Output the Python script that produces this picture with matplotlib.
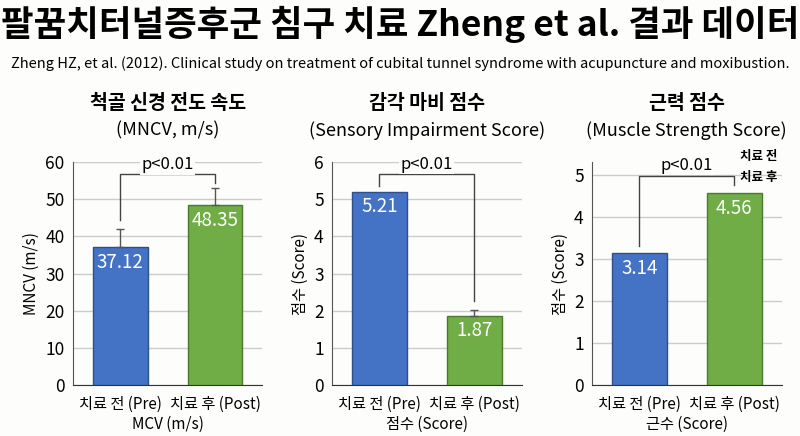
import matplotlib
matplotlib.use("Agg")
import matplotlib.pyplot as plt

plt.rcParams['font.family'] = ['Noto Sans CJK KR', 'DejaVu Sans']

# data
groups = ["치료 전 (Pre)", "치료 후 (Post)"]
mncv = [37.12, 48.35]
mncv_err = [4.8, 4.7]
sensory = [5.21, 1.87]
sensory_err = [0.0, 0.16]
muscle = [3.14, 4.56]
muscle_err = [0.0, 0.0]

panel_titles = ["척골 신경 전도 속도", "감각 마비 점수", "근력 점수"]
panel_subtitles = ["(MNCV, m/s)", "(Sensory Impairment Score)", "(Muscle Strength Score)"]
ylabels = ["MNCV (m/s)", "점수 (Score)", "점수 (Score)"]
xlabels = ["MCV (m/s)", "점수 (Score)", "근수 (Score)"]
ylims = [60, 6, 5.3]
yticks = [range(0, 61, 10), range(0, 7), range(0, 6)]
# bracket: (top, left leg end, right leg end, text y)
brackets = [(56.8, 44.4, 54.4, 59.3),
            (5.68, 5.36, 2.25, 5.95),
            (4.96, 3.30, 4.75, 5.22)]

colors = ["#4472C4", "#70AD47"]
edges = ["#2F4F8A", "#4A7A2C"]
bg = "#fdfdfb"

fig = plt.figure(figsize=(8, 4.36), dpi=100, facecolor=bg)

fig.text(0.5, 0.945, "팔꿈치터널증후군 침구 치료 Zheng et al. 결과 데이터",
         ha="center", va="center", fontsize=25.5, fontweight="bold")
fig.text(0.5, 0.855, "Zheng HZ, et al. (2012). Clinical study on treatment of cubital tunnel "
         "syndrome with acupuncture and moxibustion.",
         ha="center", va="center", fontsize=10.5)

lefts = [0.091, 0.415, 0.74]
data = [(mncv, mncv_err), (sensory, sensory_err), (muscle, muscle_err)]

for i, (vals, errs) in enumerate(data):
    ax = fig.add_axes([lefts[i], 0.117, 0.237, 0.511])
    ax.set_facecolor(bg)
    x = [0, 1]
    ax.bar(x, vals, width=0.58, color=colors, edgecolor=edges, linewidth=1, zorder=3)
    for xi, v, e in zip(x, vals, errs):
        if e > 0:
            ax.errorbar(xi, v, yerr=[[0], [e]], color="#555555", capsize=3,
                        elinewidth=1, capthick=1, zorder=4)
        ax.text(xi, v - ylims[i] * 0.068, f"{v:.2f}", ha="center", va="center",
                color="white", fontsize=13.5, zorder=5)
    ax.set_xlim(-0.5, 1.5)
    ax.set_ylim(0, ylims[i])
    ax.set_yticks(list(yticks[i]))
    ax.tick_params(axis="y", labelsize=12.5, length=0, pad=6)
    ax.tick_params(axis="x", labelsize=11, length=0, pad=8)
    ax.set_xticks(x)
    ax.set_xticklabels(groups)
    ax.set_xlabel(xlabels[i], fontsize=11, labelpad=2)
    ax.set_ylabel(ylabels[i], fontsize=11, labelpad=4)
    ax.grid(axis="y", color="#cccccc", linewidth=1, zorder=0)
    for s in ["top", "right"]:
        ax.spines[s].set_visible(False)
    ax.spines["left"].set_color("#555555")
    ax.spines["bottom"].set_color("#333333")

    top, lleg, rleg, ty = brackets[i]
    ax.plot([0, 0, 1, 1], [lleg, top, top, rleg], color="#444444", lw=1,
            zorder=4, clip_on=False)
    ax.text(0.5, ty, "p<0.01", ha="center", va="center", fontsize=12,
            zorder=5, bbox=dict(facecolor=bg, edgecolor="none", pad=1))

    cx = lefts[i] + 0.237 / 2
    fig.text(cx, 0.763, panel_titles[i], ha="center", va="center",
             fontsize=14, fontweight="bold")
    fig.text(cx, 0.70, panel_subtitles[i], ha="center", va="center", fontsize=13)

fig.text(0.925, 0.64, "치료 전", ha="left", va="center", fontsize=9, fontweight="bold")
fig.text(0.925, 0.594, "치료 후", ha="left", va="center", fontsize=9, fontweight="bold")

fig.savefig("out.png", dpi=100, facecolor=fig.get_facecolor())
